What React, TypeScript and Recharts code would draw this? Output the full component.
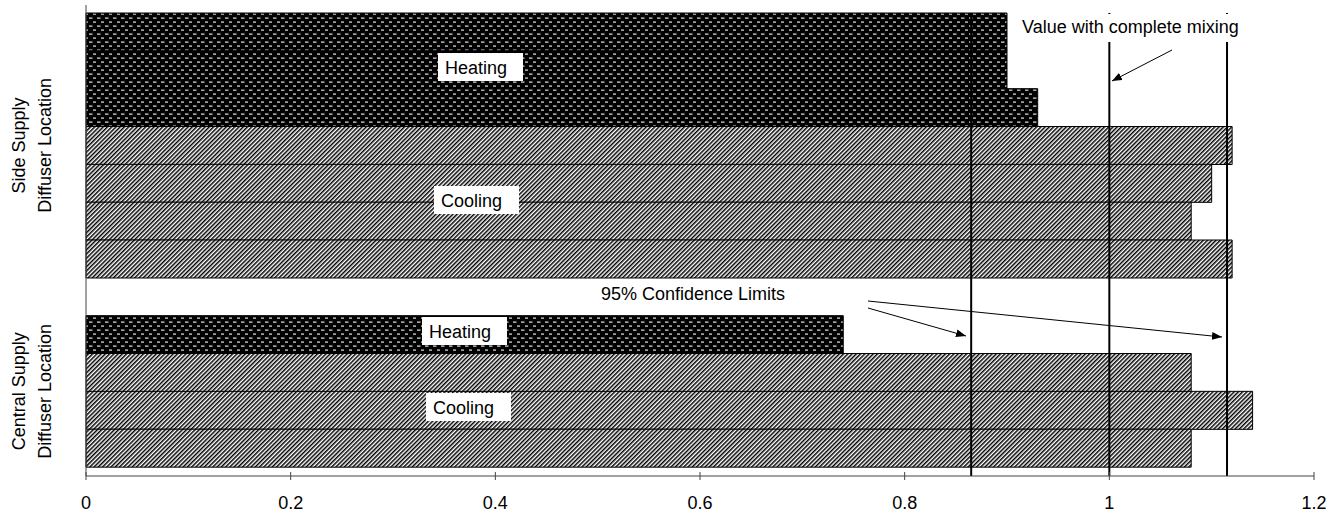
import React from 'react';
import { BarChart, Bar, Cell, XAxis, YAxis, ReferenceLine, ReferenceArea } from 'recharts';

// one row per bar, top to bottom; 'gap' is the empty slot between the two groups
const categories = [
  'side-h1', 'side-h2', 'side-h3',
  'side-c1', 'side-c2', 'side-c3', 'side-c4',
  'gap',
  'central-h1',
  'central-c1', 'central-c2', 'central-c3',
];
const modes = [
  'heating', 'heating', 'heating',
  'cooling', 'cooling', 'cooling', 'cooling',
  'none',
  'heating',
  'cooling', 'cooling', 'cooling',
];
const values = [0.9, 0.9, 0.93, 1.12, 1.1, 1.08, 1.12, null, 0.74, 1.08, 1.14, 1.08];

const xTicks = [0, 0.2, 0.4, 0.6, 0.8, 1, 1.2];
const limitLines = [0.865, 1, 1.115];

const groupFrom = ['side-h1', 'central-h1'];
const groupTo = ['side-c4', 'central-c3'];
const groupLines = [
  ['Side Supply', 'Diffuser Location'],
  ['Central Supply', 'Diffuser Location'],
];

const data = categories.map((id, i) => ({ id, mode: modes[i], value: values[i] }));

const FONT = '"Liberation Sans", Arial, Helvetica, sans-serif';
const W = 1341;
const H = 514;

const XTick = (props: any) => {
  const { x, y, payload } = props;
  return (
    <g>
      <line x1={x} x2={x} y1={y - 4} y2={y + 4} stroke="#444" strokeWidth={1} />
      <text x={x} y={y + 33} textAnchor="middle" fontSize={18} fontFamily={FONT} fill="#000">
        {String(payload.value)}
      </text>
    </g>
  );
};

const groupLabel = (lines: string[]) => (props: any) => {
  const vb = props.viewBox || {};
  const cy = vb.y + vb.height / 2;
  const baselines = [vb.x - 61, vb.x - 35];
  return (
    <g>
      {lines.map((t, i) => (
        <text
          key={i}
          x={baselines[i]}
          y={cy}
          transform={`rotate(-90, ${baselines[i]}, ${cy})`}
          textAnchor="middle"
          fontSize={18}
          fontFamily={FONT}
          fill="#000"
        >
          {t}
        </text>
      ))}
    </g>
  );
};

// boxed text labels drawn over the bars
const boxes = [
  { text: 'Heating', x: 445, y: 67 },
  { text: 'Cooling', x: 441, y: 200 },
  { text: 'Heating', x: 429, y: 331 },
  { text: 'Cooling', x: 433, y: 407 },
];

const Overlay = () => (
  <svg
    width={W}
    height={H}
    style={{ position: 'absolute', left: 0, top: 0, pointerEvents: 'none' }}
  >
    <defs>
      <marker id="head" markerWidth="10" markerHeight="8" refX="10" refY="4" orient="auto" markerUnits="userSpaceOnUse">
        <path d="M0,0 L10,4 L0,8 z" fill="#000" />
      </marker>
    </defs>
    {/* y axis stub above the first bar */}
    <line x1={86} x2={86} y1={5} y2={13} stroke="#444" strokeWidth={1} />
    {boxes.map((b, i) => (
      <g key={i}>
        <rect x={b.x - 7} y={b.y - 14} width={85} height={28} fill="#fff" />
        <text x={b.x} y={b.y + 6.5} fontSize={18} fontFamily={FONT} fill="#000">
          {b.text}
        </text>
      </g>
    ))}
    <rect x={1014} y={14} width={232} height={28} fill="#fff" />
    <text x={1022} y={33} fontSize={18} fontFamily={FONT} fill="#000">
      Value with complete mixing
    </text>
    <line x1={1172} y1={50} x2={1112} y2={81} stroke="#000" strokeWidth={1} markerEnd="url(#head)" />
    <text x={601} y={300} fontSize={18} fontFamily={FONT} fill="#000">
      95% Confidence Limits
    </text>
    <line x1={868} y1={308} x2={966} y2={336} stroke="#000" strokeWidth={1} markerEnd="url(#head)" />
    <line x1={868} y1={301} x2={1222} y2={337} stroke="#000" strokeWidth={1} markerEnd="url(#head)" />
  </svg>
);

export default function App() {
  return (
    <div style={{ position: 'absolute', left: 0, top: 0, width: W, height: H, background: '#fff' }}>
      <BarChart
        width={W}
        height={H}
        data={data}
        layout="vertical"
        barCategoryGap={0}
        margin={{ top: 13, right: 27, bottom: 37, left: 85 }}
      >
        <defs>
          <pattern id="hatchCool" patternUnits="userSpaceOnUse" width={3} height={3} patternTransform="rotate(45)">
            <rect width={3} height={3} fill="#fff" />
            <rect width={1.5} height={3} fill="#000" />
          </pattern>
          <pattern id="dotHeat" patternUnits="userSpaceOnUse" width={8} height={8}>
            <rect width={8} height={8} fill="#000" />
            <rect x={1} y={1.5} width={3.5} height={1.2} fill="#e6e6e6" />
            <rect x={5} y={5.5} width={3.5} height={1.2} fill="#e6e6e6" />
          </pattern>
        </defs>
        <XAxis
          type="number"
          domain={[0, 1.2]}
          ticks={xTicks}
          height={1}
          tickSize={0}
          tickMargin={0}
          tickLine={false}
          axisLine={{ stroke: '#444', strokeWidth: 1 }}
          tick={<XTick />}
          interval={0}
        />
        <YAxis
          type="category"
          dataKey="id"
          width={1}
          tick={false}
          tickLine={false}
          axisLine={{ stroke: '#444', strokeWidth: 1 }}
          padding={{ top: 0, bottom: 9 }}
        />
        <Bar dataKey="value" isAnimationActive={false} stroke="#000" strokeWidth={1}>
          {data.map((d, i) => (
            <Cell key={i} fill={d.mode === 'heating' ? 'url(#dotHeat)' : 'url(#hatchCool)'} />
          ))}
        </Bar>
        {groupFrom.map((f, i) => (
          <ReferenceArea
            key={f}
            y1={f}
            y2={groupTo[i]}
            fill="none"
            fillOpacity={0}
            stroke="none"
            ifOverflow="visible"
            label={groupLabel(groupLines[i])}
          />
        ))}
        {limitLines.map((v) => (
          <ReferenceLine key={v} x={v} stroke="#000" strokeWidth={2} ifOverflow="visible" />
        ))}
      </BarChart>
      <Overlay />
    </div>
  );
}
